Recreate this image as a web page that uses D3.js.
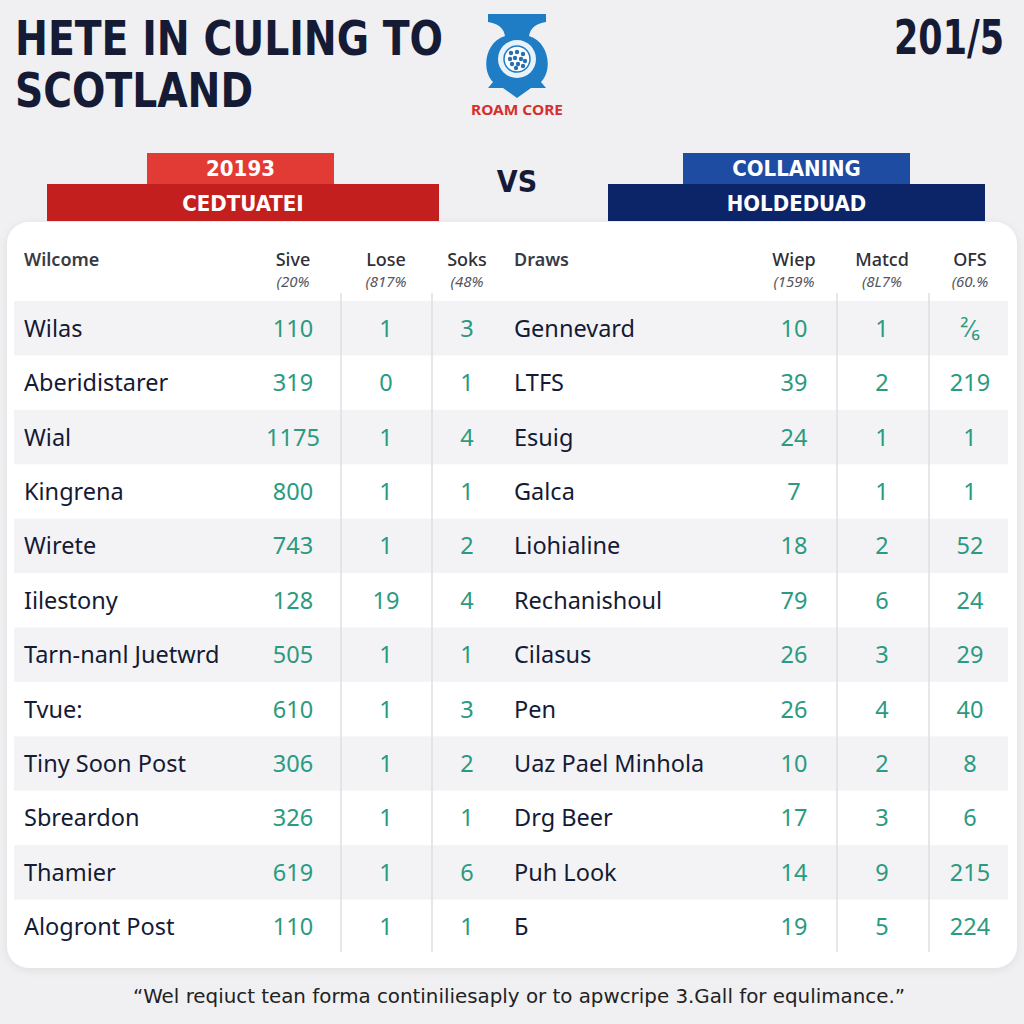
<!DOCTYPE html>
<html>
<head>
<meta charset="utf-8">
<script src="https://cdn.jsdelivr.net/npm/d3@7"></script>
<style>
  html, body { margin: 0; padding: 0; background: #f0f0f2; }
  svg { display: block; }
</style>
</head>
<body>
<svg id="chart" width="1024" height="1024"></svg>
<script>
// ---------- DATA ----------
const titleLines = ["HETE IN CULING TO", "SCOTLAND"];
const yearLabel = "201/5";
const logoLabel = "ROAM CORE";
const leftBanner = ["20193", "CEDTUATEI"];
const rightBanner = ["COLLANING", "HOLDEDUAD"];
const vsLabel = "VS";

const leftGroupLabel = "Wilcome";
const rightGroupLabel = "Draws";
const leftHeaders = ["Sive", "Lose", "Soks"];
const leftPcts = ["(20%", "(817%", "(48%"];
const rightHeaders = ["Wiep", "Matcd", "OFS"];
const rightPcts = ["(159%", "(8L7%", "(60.%"];

const leftNames = ["Wilas", "Aberidistarer", "Wial", "Kingrena", "Wirete", "Iilestony",
  "Tarn-nanl Juetwrd", "Tvue:", "Tiny Soon Post", "Sbreardon", "Thamier", "Alogront Post"];
const siveValues = [110, 319, 1175, 800, 743, 128, 505, 610, 306, 326, 619, 110];
const loseValues = [1, 0, 1, 1, 1, 19, 1, 1, 1, 1, 1, 1];
const soksValues = [3, 1, 4, 1, 2, 4, 1, 3, 2, 1, 6, 1];

const rightNames = ["Gennevard", "LTFS", "Esuig", "Galca", "Liohialine", "Rechanishoul",
  "Cilasus", "Pen", "Uaz Pael Minhola", "Drg Beer", "Puh Look", "Б"];
const wiepValues = [10, 39, 24, 7, 18, 79, 26, 26, 10, 17, 14, 19];
const matcdValues = [1, 2, 1, 1, 2, 6, 3, 4, 2, 3, 9, 5];
const ofsValues = ["²⁄₆", 219, 1, 1, 52, 24, 29, 40, 8, 6, 215, 224];

const footnote = "\u201CWel reqiuct tean forma continiliesaply or to apwcripe 3.Gall for equlimance.\u201D";

// ---------- STYLE ----------
const navy = "#151a35";
const teal = "#2b9a80";
const condensed = "'DejaVu Sans Condensed', 'Liberation Sans Narrow', 'DejaVu Sans', sans-serif";
const body = "'Noto Sans', 'Open Sans', sans-serif";

const svg = d3.select("#chart");

// drop shadow filter
const defs = svg.append("defs");
const f = defs.append("filter").attr("id", "shadow").attr("x", "-5%").attr("y", "-5%").attr("width", "110%").attr("height", "110%");
f.append("feDropShadow").attr("dx", 0).attr("dy", 2).attr("stdDeviation", 4).attr("flood-color", "#000").attr("flood-opacity", 0.08);

// background
svg.append("rect").attr("width", 1024).attr("height", 1024).attr("fill", "#f0f0f2");

// ---------- TITLE ----------
const titleWidths = [428, 238];
svg.selectAll("text.title").data(titleLines).join("text")
  .attr("class", "title")
  .attr("x", 15)
  .attr("y", (d, i) => 55 + i * 52)
  .attr("font-family", condensed)
  .attr("font-weight", 700)
  .attr("font-size", 48)
  .attr("fill", navy)
  .attr("textLength", (d, i) => titleWidths[i])
  .attr("lengthAdjust", "spacingAndGlyphs")
  .text(d => d);

const yearText = svg.append("text")
  .attr("x", 0).attr("y", 0)
  .attr("text-anchor", "end")
  .attr("font-family", condensed)
  .attr("font-weight", 700)
  .attr("font-size", 48)
  .attr("fill", navy)
  .text(yearLabel);
const yearLen = yearText.node().getComputedTextLength();
yearText.attr("transform", `translate(1004,54) scale(${Math.min(1, 110 / yearLen)},1)`);

// ---------- LOGO ----------
const logo = svg.append("g");
logo.append("path")
  .attr("d", "M488,14 L546,14 L546,22 Q531,24 529,36 C549,42 553,70 541,82 L546,88 L531,88 L517,98 L503,88 L488,88 L493,82 C481,70 485,42 505,36 Q503,24 488,22 Z")
  .attr("fill", "#1f7dc6");
logo.append("circle").attr("cx", 517).attr("cy", 59).attr("r", 19).attr("fill", "#e8f2fa");
logo.append("circle").attr("cx", 517).attr("cy", 59).attr("r", 13).attr("fill", "#ffffff").attr("stroke", "#1f7dc6").attr("stroke-width", 1.5);
const dots = [[-6,-6],[0,-7],[6,-5],[-7,0],[-2,-1],[4,0],[8,2],[-5,5],[1,5],[6,7],[-1,9]];
logo.selectAll("circle.dot").data(dots).join("circle")
  .attr("class", "dot")
  .attr("cx", d => 517 + d[0]).attr("cy", d => 59 + d[1]).attr("r", 2.2)
  .attr("fill", "#2a6fb0");
svg.append("text")
  .attr("x", 517).attr("y", 115)
  .attr("text-anchor", "middle")
  .attr("font-family", body)
  .attr("font-weight", 700)
  .attr("font-size", 14)
  .attr("fill", "#d62f2f")
  .attr("textLength", 92)
  .attr("lengthAdjust", "spacingAndGlyphs")
  .text(logoLabel);

// ---------- BANNERS ----------
function banner(topBox, botBox, colors, labels) {
  svg.append("rect").attr("x", topBox[0]).attr("y", topBox[1]).attr("width", topBox[2]).attr("height", topBox[3]).attr("fill", colors[0]);
  svg.append("rect").attr("x", botBox[0]).attr("y", botBox[1]).attr("width", botBox[2]).attr("height", botBox[3]).attr("fill", colors[1]);
  const cx = botBox[0] + botBox[2] / 2;
  svg.append("text").attr("x", topBox[0] + topBox[2] / 2).attr("y", topBox[1] + 23)
    .attr("text-anchor", "middle").attr("font-family", condensed).attr("font-weight", 700)
    .attr("font-size", 22).attr("fill", "#fff").text(labels[0]);
  svg.append("text").attr("x", cx).attr("y", botBox[1] + 27)
    .attr("text-anchor", "middle").attr("font-family", condensed).attr("font-weight", 700)
    .attr("font-size", 22).attr("fill", "#fff").text(labels[1]);
}
banner([147, 153, 187, 31], [47, 184, 392, 37], ["#e23b36", "#c41f1f"], leftBanner);
banner([683, 153, 227, 31], [608, 184, 377, 37], ["#1e4ca3", "#0c2569"], rightBanner);

svg.append("text").attr("x", 517).attr("y", 192)
  .attr("text-anchor", "middle").attr("font-family", condensed).attr("font-weight", 700)
  .attr("font-size", 30).attr("fill", navy).text(vsLabel);

// ---------- CARD ----------
svg.append("rect")
  .attr("x", 7).attr("y", 222).attr("width", 1010).attr("height", 746).attr("rx", 22)
  .attr("fill", "#ffffff").attr("filter", "url(#shadow)");

// ---------- SCALES ----------
const nRows = leftNames.length;
const y = d3.scaleBand().domain(d3.range(nRows)).range([301, 954]).padding(0);
const colKeys = ["sive", "lose", "soks", "wiep", "matcd", "ofs"];
const colX = d3.scaleOrdinal().domain(colKeys).range([293, 386, 467, 794, 882, 970]);
const nameX = d3.scaleOrdinal().domain(["left", "right"]).range([24, 514]);

// row stripes
svg.selectAll("rect.stripe").data(d3.range(nRows).filter(i => i % 2 === 0)).join("rect")
  .attr("class", "stripe")
  .attr("x", 14).attr("width", 994)
  .attr("y", d => y(d)).attr("height", y.bandwidth())
  .attr("fill", "#f3f3f5");

// vertical dividers
const dividers = [341, 432, 837, 929];
svg.selectAll("line.div").data(dividers).join("line")
  .attr("class", "div")
  .attr("x1", d => d).attr("x2", d => d)
  .attr("y1", 293).attr("y2", 952)
  .attr("stroke", "#dfdfe3").attr("stroke-width", 1.5);

// ---------- HEADERS ----------
svg.selectAll("text.group").data([[leftGroupLabel, "left"], [rightGroupLabel, "right"]]).join("text")
  .attr("class", "group")
  .attr("x", d => nameX(d[1])).attr("y", 266)
  .attr("font-family", body).attr("font-weight", 600).attr("font-size", 18)
  .attr("fill", "#3a3a44").text(d => d[0]);

const headerData = leftHeaders.concat(rightHeaders).map((h, i) => ({ key: colKeys[i], label: h, pct: leftPcts.concat(rightPcts)[i] }));
svg.selectAll("text.hdr").data(headerData).join("text")
  .attr("class", "hdr")
  .attr("x", d => colX(d.key)).attr("y", 266)
  .attr("text-anchor", "middle")
  .attr("font-family", body).attr("font-weight", 500).attr("font-size", 18)
  .attr("fill", "#2f2f38").text(d => d.label);
svg.selectAll("text.pct").data(headerData).join("text")
  .attr("class", "pct")
  .attr("x", d => colX(d.key)).attr("y", 287)
  .attr("text-anchor", "middle")
  .attr("font-family", body).attr("font-style", "italic").attr("font-size", 15)
  .attr("fill", "#55555e").text(d => d.pct);

// ---------- ROWS ----------
const rows = d3.range(nRows).map(i => ({
  i,
  left: leftNames[i], right: rightNames[i],
  vals: { sive: siveValues[i], lose: loseValues[i], soks: soksValues[i],
          wiep: wiepValues[i], matcd: matcdValues[i], ofs: ofsValues[i] }
}));

const rowG = svg.selectAll("g.row").data(rows).join("g")
  .attr("class", "row")
  .attr("transform", d => `translate(0,${y(d.i) + y.bandwidth() / 2 + 8.5})`);

rowG.append("text")
  .attr("x", nameX("left"))
  .attr("font-family", body).attr("font-size", 23.5).attr("fill", navy)
  .text(d => d.left);
rowG.append("text")
  .attr("x", nameX("right"))
  .attr("font-family", body).attr("font-size", 23.5).attr("fill", navy)
  .text(d => d.right);

rowG.selectAll("text.val").data(d => colKeys.map(k => ({ k, v: d.vals[k] }))).join("text")
  .attr("class", "val")
  .attr("x", d => colX(d.k))
  .attr("text-anchor", "middle")
  .attr("font-family", body).attr("font-size", 23.5).attr("fill", teal)
  .text(d => d.v);

// ---------- FOOTNOTE ----------
svg.append("text")
  .attr("x", 519).attr("y", 1003)
  .attr("text-anchor", "middle")
  .attr("font-family", condensed).attr("font-size", 20).attr("fill", "#222")
  .attr("textLength", 772).attr("lengthAdjust", "spacingAndGlyphs")
  .text(footnote);
</script>
</body>
</html>
